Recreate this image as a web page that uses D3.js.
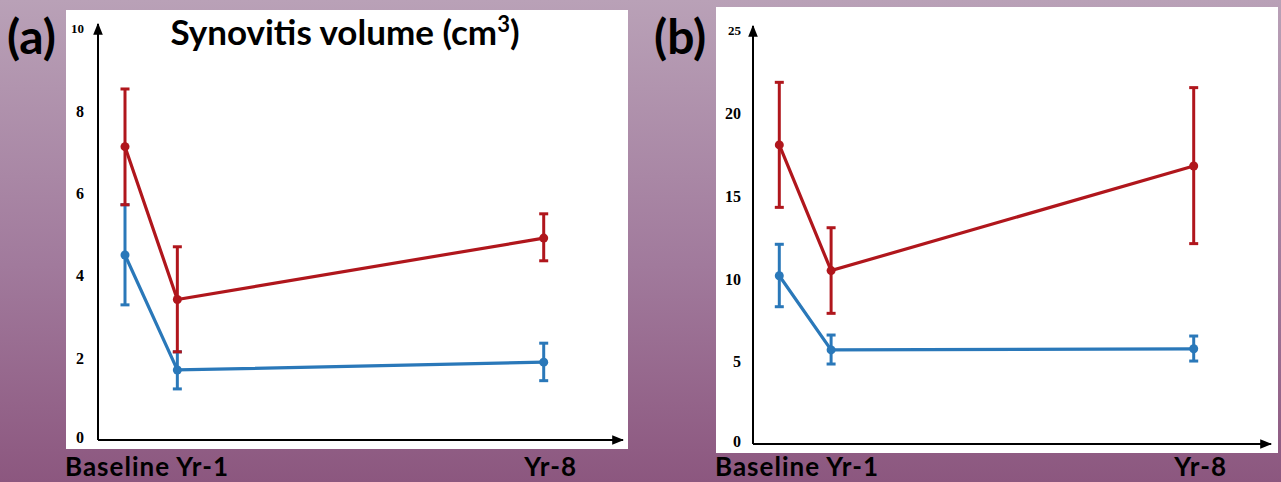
<!DOCTYPE html>
<html>
<head>
<meta charset="utf-8">
<script src="https://cdn.jsdelivr.net/npm/d3@7"></script>
<style>
  html, body { margin: 0; padding: 0; overflow: hidden; }
  svg { display: block; }
</style>
</head>
<body>
<div id="chart"></div>
<script>
// time points (years) and labels
const times = [0, 1, 8];
const xLabels = ["Baseline Yr-1", "Yr-8"];

// panel (a) synovitis volume, cm3
const ticksA = [0, 2, 4, 6, 8, 10];
const redA = [7.12, 3.41, 4.90];
const redALow = [5.71, 2.14, 4.35];
const redAHigh = [8.52, 4.69, 5.49];
const blueA = [4.49, 1.70, 1.89];
const blueALow = [3.28, 1.24, 1.44];
const blueAHigh = [5.71, 2.14, 2.35];

// panel (b)
const ticksB = [0, 5, 10, 15, 20, 25];
const redB = [18.06, 10.47, 16.79];
const redBLow = [14.29, 7.89, 12.10];
const redBHigh = [21.84, 13.06, 21.52];
const blueB = [10.16, 5.68, 5.75];
const blueBLow = [8.29, 4.83, 5.01];
const blueBHigh = [12.06, 6.58, 6.52];

const RED = "#b0161c";
const BLUE = "#2a78b9";

const w = 1281, h = 482;

const svg = d3.select("#chart")
    .append("svg")
    .attr("width", w)
    .attr("height", h);

const defs = svg.append("defs");
const grad = defs.append("linearGradient")
    .attr("id", "bg")
    .attr("x1", 0).attr("y1", 0).attr("x2", 0).attr("y2", 1);
grad.append("stop").attr("offset", "0%").attr("stop-color", "#b9a1b7");
grad.append("stop").attr("offset", "55%").attr("stop-color", "#a17a9c");
grad.append("stop").attr("offset", "100%").attr("stop-color", "#8c577f");

defs.append("marker")
    .attr("id", "arrow")
    .attr("viewBox", "0 0 10 10")
    .attr("refX", 9).attr("refY", 5)
    .attr("markerWidth", 6).attr("markerHeight", 6)
    .attr("markerUnits", "strokeWidth")
    .attr("orient", "auto")
    .append("path")
    .attr("d", "M0,1 L10,5 L0,9 Z")
    .attr("fill", "#000");

svg.append("rect")
    .attr("width", w).attr("height", h)
    .attr("fill", "url(#bg)");

function panel(cfg) {
    const g = svg.append("g");

    g.append("rect")
        .attr("x", cfg.box[0]).attr("y", cfg.box[1])
        .attr("width", cfg.box[2]).attr("height", cfg.box[3])
        .attr("fill", "#fff");

    const xScale = d3.scaleLinear()
        .domain([0, 8])
        .range(cfg.xRange);

    const yScale = d3.scaleLinear()
        .domain([0, d3.max(cfg.ticks)])
        .range(cfg.yRange);

    // axes lines with arrows
    g.append("line")
        .attr("x1", cfg.axisX).attr("y1", yScale(0))
        .attr("x2", cfg.axisX).attr("y2", yScale(d3.max(cfg.ticks)) - 4)
        .attr("stroke", "#000").attr("stroke-width", 2)
        .attr("marker-end", "url(#arrow)");
    g.append("line")
        .attr("x1", cfg.axisX).attr("y1", yScale(0))
        .attr("x2", cfg.axisEnd).attr("y2", yScale(0))
        .attr("stroke", "#000").attr("stroke-width", 2)
        .attr("marker-end", "url(#arrow)");

    const yAxis = d3.axisLeft(yScale)
        .tickValues(cfg.ticks)
        .tickSize(0)
        .tickPadding(cfg.tickPad);

    const ya = g.append("g")
        .attr("transform", "translate(" + cfg.axisX + ",0)")
        .call(yAxis);
    ya.select(".domain").remove();
    ya.selectAll("text")
        .attr("fill", "#000")
        .attr("font-family", "'Liberation Serif', serif")
        .attr("font-weight", "bold")
        .attr("font-size", (d) => d === d3.max(cfg.ticks) ? "13px" : "16px")
        .attr("dy", (d) => d === 0 ? "0.15em" : "0.35em");

    const series = [
        { v: cfg.blue, lo: cfg.blueLow, hi: cfg.blueHigh, c: BLUE },
        { v: cfg.red, lo: cfg.redLow, hi: cfg.redHigh, c: RED }
    ];

    const line = d3.line()
        .x((d, i) => xScale(times[i]))
        .y((d) => yScale(d));

    series.forEach(function (s) {
        const pts = s.v.map((d, i) => ({ t: times[i], v: d, lo: s.lo[i], hi: s.hi[i] }));
        const eg = g.append("g");

        eg.selectAll(".err")
            .data(pts)
            .enter()
            .append("line")
            .attr("x1", (d) => xScale(d.t)).attr("x2", (d) => xScale(d.t))
            .attr("y1", (d) => yScale(d.lo)).attr("y2", (d) => yScale(d.hi))
            .attr("stroke", s.c).attr("stroke-width", 3);

        ["lo", "hi"].forEach(function (k) {
            eg.selectAll(".cap-" + k)
                .data(pts)
                .enter()
                .append("line")
                .attr("x1", (d) => xScale(d.t) - 4.5).attr("x2", (d) => xScale(d.t) + 4.5)
                .attr("y1", (d) => yScale(d[k])).attr("y2", (d) => yScale(d[k]))
                .attr("stroke", s.c).attr("stroke-width", 3);
        });

        eg.append("path")
            .datum(s.v)
            .attr("d", line)
            .attr("fill", "none")
            .attr("stroke", s.c)
            .attr("stroke-width", 3.2);

        eg.selectAll("circle")
            .data(pts)
            .enter()
            .append("circle")
            .attr("cx", (d) => xScale(d.t))
            .attr("cy", (d) => yScale(d.v))
            .attr("r", 4.5)
            .attr("fill", s.c);
    });

    // x labels
    g.append("text")
        .attr("x", cfg.box[0] - 1)
        .attr("y", 476.3)
        .attr("font-family", "Lato, sans-serif")
        .attr("font-weight", "bold")
        .attr("font-size", "26px")
        .attr("letter-spacing", "1px")
        .attr("fill", "#000")
        .text(xLabels[0]);

    g.append("text")
        .attr("x", xScale(times[2]) + 7)
        .attr("y", 476.3)
        .attr("text-anchor", "middle")
        .attr("font-family", "Lato, sans-serif")
        .attr("font-weight", "bold")
        .attr("font-size", "26px")
        .attr("letter-spacing", "1px")
        .attr("fill", "#000")
        .text(xLabels[1]);

    // panel letter
    g.append("text")
        .attr("x", cfg.letterX)
        .attr("y", 54)
        .attr("font-family", "Lato, sans-serif")
        .attr("font-weight", "bold")
        .attr("font-size", "48px")
        .attr("fill", "#000")
        .text(cfg.letter);

    return g;
}

const ga = panel({
    box: [66, 10, 562, 439],
    axisX: 98, axisEnd: 623, tickPad: 14,
    xRange: [125, 543.7], yRange: [440, 28],
    ticks: ticksA,
    red: redA, redLow: redALow, redHigh: redAHigh,
    blue: blueA, blueLow: blueALow, blueHigh: blueAHigh,
    letter: "(a)", letterX: 7
});

panel({
    box: [716, 7, 562, 446],
    axisX: 753, axisEnd: 1271, tickPad: 12,
    xRange: [779.3, 1193.7], yRange: [444, 30],
    ticks: ticksB,
    red: redB, redLow: redBLow, redHigh: redBHigh,
    blue: blueB, blueLow: blueBLow, blueHigh: blueBHigh,
    letter: "(b)", letterX: 654
});

// title
const title = ga.append("text")
    .attr("x", 345)
    .attr("y", 45)
    .attr("text-anchor", "middle")
    .attr("font-family", "Lato, sans-serif")
    .attr("font-weight", "bold")
    .attr("font-size", "35px")
    .attr("fill", "#000");
title.append("tspan").text("Synovitis volume (cm");
title.append("tspan").attr("baseline-shift", "super").attr("font-size", "22px").text("3");
title.append("tspan").text(")");
</script>
</body>
</html>
